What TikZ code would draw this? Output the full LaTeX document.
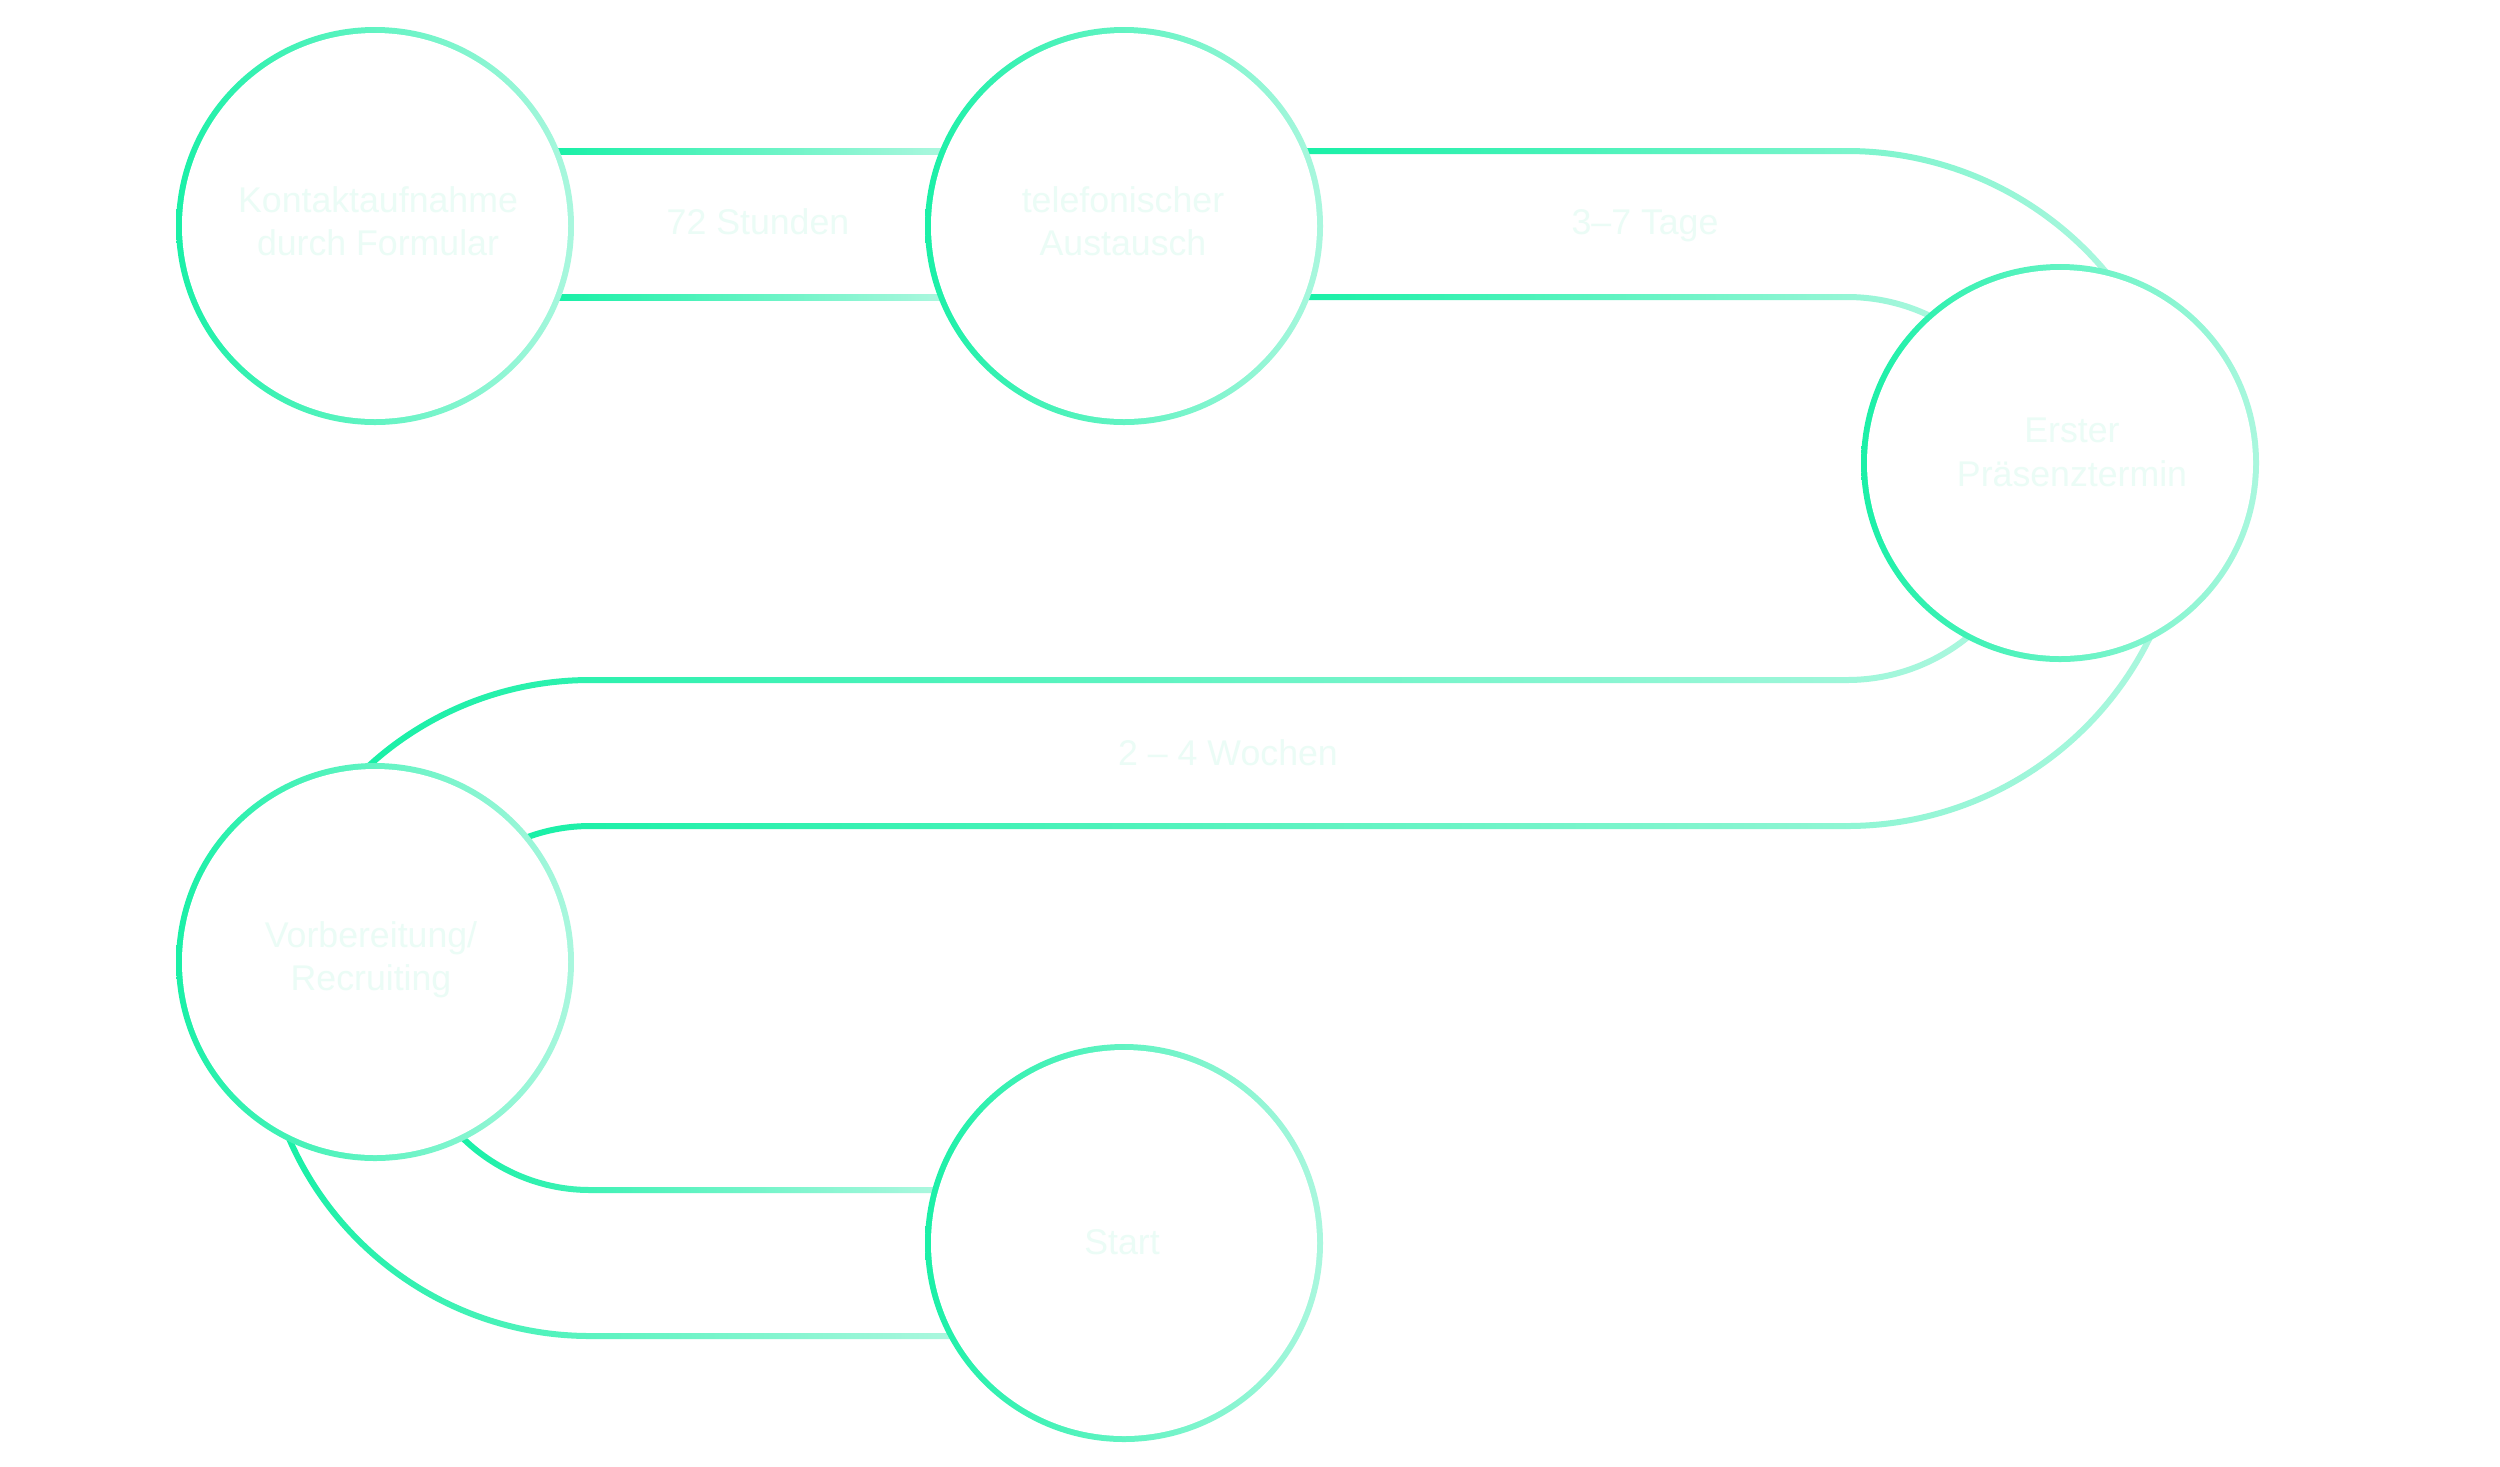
\documentclass[tikz,border=0pt]{standalone}
\usepackage{fontspec}
\setmainfont{Liberation Sans}
\usetikzlibrary{calc}
\definecolor{gA}{HTML}{1AF0A7}
\definecolor{gB}{HTML}{AAF7DE}
\definecolor{txt}{HTML}{EBFCF6}
\tikzset{
  lbl/.style={text=txt, font=\fontsize{10.15}{12.3}\selectfont, inner sep=0pt, align=center},
  grad/.style={left color=gA, right color=gB},
}
\newcommand{\gradrail}[3]{%
  \begin{scope}
    \clip #1;
    \fill[gA] ({#2-600},-100) rectangle (#2,1600);
    \shade[grad] (#2,-100) rectangle (#3,1600);
    \fill[gB] (#3,-100) rectangle ({#3+600},1600);
  \end{scope}}
\newcommand{\gradring}[1]{%
  \begin{scope}
    \clip (#1) circle[radius=199];
    \shade[grad] ($(#1)+(-199,-199)$) rectangle ($(#1)+(199,199)$);
  \end{scope}
  \fill[white] (#1) circle[radius=193];}
\begin{document}
\begin{tikzpicture}[x=0.01cm,y=0.01cm,yscale=-1]
\useasboundingbox[fill=white] (0,0) rectangle (2500,1466);
\coordinate (cA) at (375,226);
\coordinate (cB) at (1124,226);
\coordinate (cC) at (2060,463);
\coordinate (cD) at (375,962);
\coordinate (cE) at (1124,1243);
\coordinate (O1) at (1847,488.5);
\coordinate (O2) at (590,1008);
% A - B
\gradrail{(540,148) rectangle (960,154)}{559}{940}
\gradrail{(540,294) rectangle (960,300)}{561}{938}
% B - C
\gradrail{(1290,148) -- (1847,148) arc[start angle=-90,end angle=-25,radius=340.5] -- ++(-25:-6) arc[start angle=-25,end angle=-90,radius=334.5] -- (1290,154) -- cycle}{1308}{2112}
\gradrail{(1290,294) -- (1847,294) arc[start angle=-90,end angle=-20,radius=194.5] -- ++(-20:-6) arc[start angle=-20,end angle=-90,radius=188.5] -- (1290,300) -- cycle}{1310}{1940}
% C - D
\gradrail{($(O1)+(20:194.5)$) arc[start angle=20,end angle=90,radius=194.5] -- (590,683) arc[start angle=-90,end angle=-150,radius=325] -- ++(-150:6) arc[start angle=-150,end angle=-90,radius=331] -- (1847,677) arc[start angle=90,end angle=20,radius=188.5] -- cycle}{372}{1974}
\gradrail{($(O1)+(15:340.5)$) arc[start angle=15,end angle=90,radius=340.5] -- (590,829) arc[start angle=-90,end angle=-140,radius=179] -- ++(-140:6) arc[start angle=-140,end angle=-90,radius=185] -- (1847,823) arc[start angle=90,end angle=15,radius=334.5] -- cycle}{532}{2155}
% D - E
\gradrail{($(O2)+(145:179)$) arc[start angle=145,end angle=90,radius=179] -- (960,1187) -- (960,1193) -- (590,1193) arc[start angle=90,end angle=145,radius=185] -- cycle}{465}{932}
\gradrail{($(O2)+(165:325)$) arc[start angle=165,end angle=90,radius=325] -- (970,1333) -- (970,1339) -- (590,1339) arc[start angle=90,end angle=165,radius=331] -- cycle}{293}{948}
% circles
\gradring{cA}
\gradring{cB}
\gradring{cC}
\gradring{cD}
\gradring{cE}
% texts
\node[lbl] (tA) at (378,221) {Kontaktaufnahme\\durch Formular};
\node[lbl] (tB) at (1123,221.5) {telefonischer\\Austausch};
\node[lbl] (tC) at (2072,452.5) {Erster\\Präsenztermin};
\node[lbl] (tD) at (371,960) {Vorbereitung/\\Recruiting};
\node[lbl,anchor=base] (tE) at (1122,1254) {Start};
\node[lbl,anchor=base] (l1) at (758,234) {72 Stunden};
\node[lbl,anchor=base] (l2) at (1645,234) {3–7 Tage};
\node[lbl,anchor=base] (l3) at (1228,765) {2 – 4 Wochen};
\end{tikzpicture}
\end{document}
